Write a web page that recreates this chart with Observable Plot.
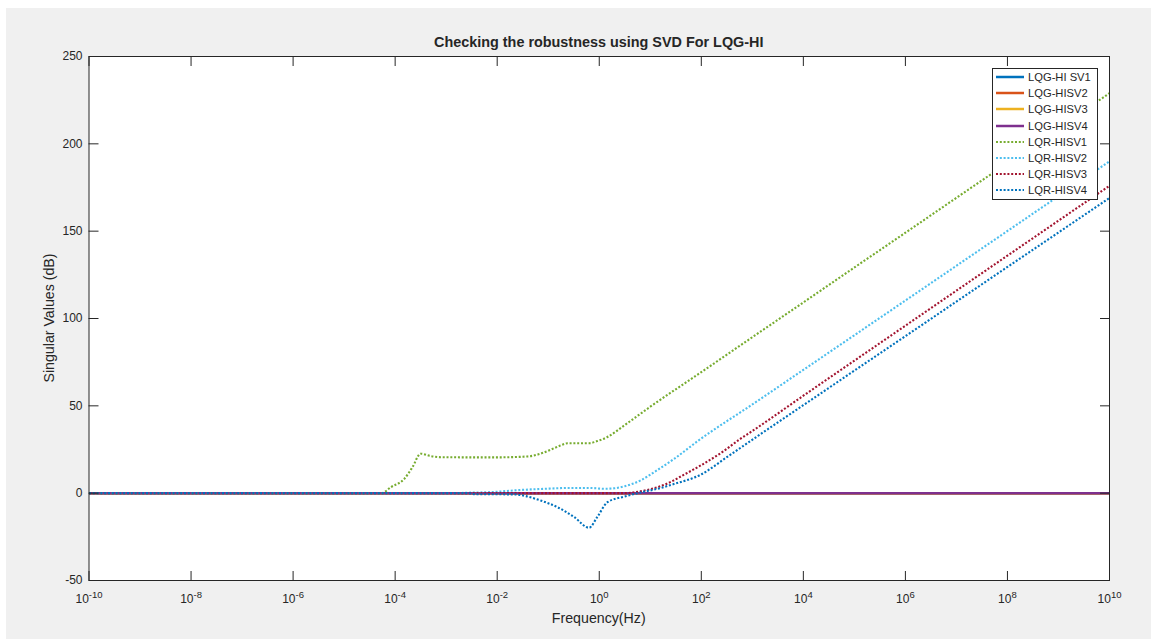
<!DOCTYPE html>
<html>
<head>
<meta charset="utf-8">
<script src="https://cdn.jsdelivr.net/npm/d3@7"></script>
<script src="https://cdn.jsdelivr.net/npm/@observablehq/plot@0.6"></script>
<style>
  html, body { margin: 0; padding: 0; background: #ffffff; }
  #wrap { position: relative; width: 1151px; height: 639px; overflow: hidden; font-family: "Liberation Sans", Arial, Helvetica, sans-serif; color: #262626; }
  #bg { position: absolute; left: 6px; top: 8px; width: 1145px; height: 631px; background: #f0f0f0; }
  #chart { position: absolute; left: 0; top: 0; }
  .lbl { position: absolute; white-space: nowrap; line-height: normal; color: #262626; }
  #legend { position: absolute; left: 992px; top: 68px; width: 104px; height: 129.6px; border: 1px solid #262626; background: #ffffff; }
  .row { display: flex; align-items: center; height: 16.2px; font-size: 11.2px; }
  .row svg { margin-left: 3px; margin-right: 4px; display: block; }
</style>
</head>
<body>
<div id="wrap">
  <div id="bg"></div>
  <div id="chart"></div>
  <div class="lbl" id="title" style="left:88.5px; width:1020.5px; text-align:center; top:34px; font-size:14.4px; font-weight:bold;">Checking the robustness using SVD For LQG-HI</div>
  <div class="lbl" id="xlabel" style="left:88.5px; width:1020.5px; text-align:center; top:609.5px; font-size:14.2px;">Frequency(Hz)</div>
  <div class="lbl" id="ylabel" style="left:49px; top:318px; font-size:14.2px; transform: translate(-50%,-50%) rotate(-90deg);">Singular Values (dB)</div>
  <div id="legend"></div>
</div>
<script>
// ---- data (frequency given as log10 exponent, values in dB) ----
const seriesNames = ["LQG-HI SV1", "LQG-HISV2", "LQG-HISV3", "LQG-HISV4", "LQR-HISV1", "LQR-HISV2", "LQR-HISV3", "LQR-HISV4"];
const seriesColors = ["#0072BD", "#D95319", "#EDB120", "#7E2F8E", "#77AC30", "#4DBEEE", "#A2142F", "#0072BD"];
const seriesDotted = [false, false, false, false, true, true, true, true];

const lqgExp = [-10, 10];
const lqg1Val = [0, 0];
const lqg2Val = [0, 0];
const lqg3Val = [0, 0];
const lqg4Val = [0, 0];

const lqr1Exp = [-10, -4.27, -4.08, -3.82, -3.66, -3.5, -3.3, -3.1, -2.5, -2.0, -1.41, -1.15, -0.96, -0.76, -0.62, -0.2, -0.04, 0.15, 0.5, 1.0, 2.0, 3.0, 4.0, 5.0, 6.0, 7.0, 8.0, 9.0, 10.0];
const lqr1Val = [0, 0, 3.5, 8.2, 14.9, 22.6, 21.2, 20.6, 20.5, 20.5, 21, 22.6, 24.8, 27.3, 28.6, 28.6, 29.8, 32, 39, 49.5, 69.3, 89.3, 109.2, 129.2, 149.1, 169.1, 189, 209, 229];

const lqr2Exp = [-10, -3.0, -2.5, -2.0, -1.7, -1.3, -1.0, -0.6, -0.2, 0.1, 0.3, 0.5, 0.81, 1.1, 1.46, 1.99, 3.0, 4.0, 6.0, 8.0, 10.0];
const lqr2Val = [0, 0, 0.3, 0.8, 1.5, 2.2, 2.6, 3, 3, 2.5, 2.8, 4, 7.3, 12.5, 19.5, 31.1, 50.8, 70.6, 110.3, 150.1, 190];

const lqr3Exp = [-10, 0.5, 0.81, 1.14, 1.46, 1.6, 1.99, 2.4, 2.77, 3.0, 4.0, 6.0, 8.0, 10.0];
const lqr3Val = [0, 0, 1.1, 3.4, 7.3, 9.6, 15.9, 23.3, 31.2, 35.6, 55.8, 95.9, 136, 176];

const lqr4Exp = [-10, -2.6, -2.4, -1.67, -1.41, -1.15, -0.82, -0.49, -0.2, -0.04, 0.16, 0.5, 0.81, 1.14, 1.46, 1.99, 2.5, 3.03, 4.0, 6.0, 8.0, 10.0];
const lqr4Val = [0, 0, -0.6, -0.7, -1.9, -4.2, -8, -13.7, -19.8, -13.7, -5.2, -1.9, 0.4, 2.5, 5.2, 10.6, 20.6, 31.2, 50.4, 89.9, 129.5, 169];

const xTickExp = [-10, -8, -6, -4, -2, 0, 2, 4, 6, 8, 10];
const yTicks = [-50, 0, 50, 100, 150, 200, 250];

// ---- build table ----
const seriesExp = [lqgExp, lqgExp, lqgExp, lqgExp, lqr1Exp, lqr2Exp, lqr3Exp, lqr4Exp];
const seriesVal = [lqg1Val, lqg2Val, lqg3Val, lqg4Val, lqr1Val, lqr2Val, lqr3Val, lqr4Val];
const tables = seriesNames.map((name, i) =>
  seriesExp[i].map((e, j) => ({name, f: Math.pow(10, e), v: seriesVal[i][j]}))
);
const xTicks = xTickExp.map(e => Math.pow(10, e));

const DASH = "2,1.8";
const lineMarks = tables.map((rows, i) =>
  Plot.line(rows, {
    x: "f", y: "v",
    curve: "monotone-x",
    stroke: seriesColors[i],
    strokeWidth: seriesDotted[i] ? 2.1 : 2.5,
    strokeDasharray: seriesDotted[i] ? DASH : null,
    strokeLinecap: "butt",
    strokeLinejoin: "round"
  })
);

const axisColor = "#262626";
const chart = Plot.plot({
  width: 1151,
  height: 639,
  marginLeft: 88.5,
  marginRight: 42,
  marginTop: 56,
  marginBottom: 59,
  style: {background: "transparent", fontFamily: "'Liberation Sans', Arial, Helvetica, sans-serif", fontSize: "12px", color: axisColor, overflow: "visible"},
  x: {type: "log", domain: [1e-10, 1e10]},
  y: {domain: [-50, 250]},
  marks: [
    Plot.frame({fill: "white", stroke: null}),
    ...lineMarks,
    Plot.frame({stroke: axisColor, strokeWidth: 1}),
    Plot.axisX({anchor: "bottom", ticks: xTicks, tickSize: -9, tickFormat: () => "", label: null, stroke: axisColor}),
    Plot.axisX({anchor: "top", ticks: xTicks, tickSize: -9, tickFormat: () => "", label: null, stroke: axisColor}),
    Plot.axisX({anchor: "bottom", ticks: xTicks, tickSize: 0, tickPadding: 13.5, label: null, fill: axisColor,
      tickFormat: d => "10^" + Math.round(Math.log10(d))}),
    Plot.axisY({anchor: "left", ticks: yTicks, tickSize: -10, tickFormat: () => "", label: null, stroke: axisColor}),
    Plot.axisY({anchor: "right", ticks: yTicks, tickSize: -10, tickFormat: () => "", label: null, stroke: axisColor}),
    Plot.axisY({anchor: "left", ticks: yTicks, tickSize: 0, tickPadding: 6.5, label: null, fill: axisColor,
      tickFormat: d => String(d)})
  ]
});
document.getElementById("chart").appendChild(chart);

// superscript exponents for the log axis labels
d3.select(chart).selectAll("text").each(function() {
  const s = this.textContent;
  const m = /^10\^(-?\d+)$/.exec(s);
  if (m) {
    const t = d3.select(this);
    t.text(null);
    t.append("tspan").text("10");
    t.append("tspan").attr("dy", "-0.45em").attr("font-size", "9.5px").text(m[1]);
  }
});

// legend
const legend = d3.select("#legend");
seriesNames.forEach((name, i) => {
  const row = legend.append("div").attr("class", "row");
  const sw = row.append("svg").attr("width", 28).attr("height", 6);
  sw.append("line").attr("x1", 0).attr("x2", 28).attr("y1", 3).attr("y2", 3)
    .attr("stroke", seriesColors[i])
    .attr("stroke-width", seriesDotted[i] ? 2.1 : 2.5)
    .attr("stroke-dasharray", seriesDotted[i] ? DASH : null);
  row.append("span").text(name);
});
</script>
</body>
</html>
